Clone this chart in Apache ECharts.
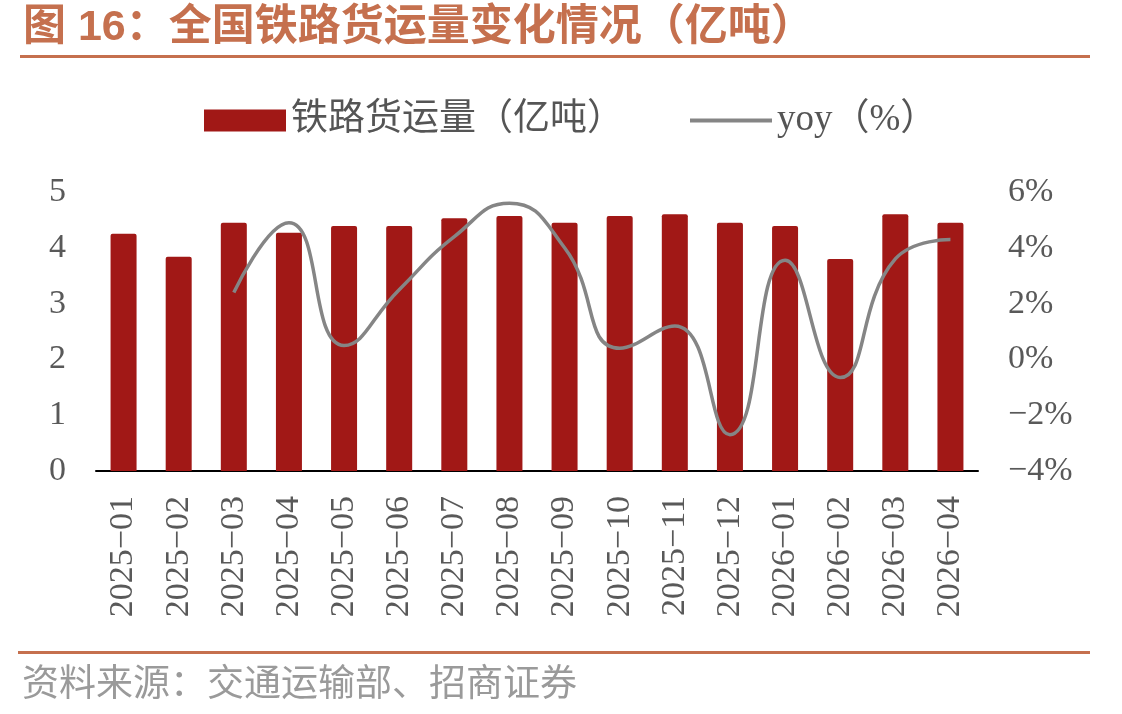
<!DOCTYPE html>
<html>
<head>
<meta charset="utf-8">
<script src="https://cdn.jsdelivr.net/npm/echarts@6/dist/echarts.min.js"></script>
<style>
  html, body { margin: 0; padding: 0; background: #fff; }
  #chart { width: 1122px; height: 714px; }
</style>
</head>
<body>
<div id="chart"></div>
<script>
// 数据
var months = ['2025-01','2025-02','2025-03','2025-04','2025-05','2025-06','2025-07','2025-08',
              '2025-09','2025-10','2025-11','2025-12','2026-01','2026-02','2026-03','2026-04'];
var volume = [4.25, 3.84, 4.45, 4.27, 4.39, 4.39, 4.53, 4.57, 4.45, 4.57, 4.60, 4.45, 4.39, 3.80, 4.60, 4.45];
var yoy = [null, null, 2.4, 4.9, 0.5, 2.5, 4.4, 5.6, 4.0, 0.4, 1.2, -2.7, 3.55, -0.65, 3.6, 4.3];

var brown = '#C5704E';
var numFont = '"Liberation Serif", "Noto Sans CJK SC", serif';

var myChart = echarts.init(document.getElementById('chart'));
myChart.setOption({
  animation: false,
  title: {
    text: '图 16：全国铁路货运量变化情况（亿吨）',
    left: 18,
    top: 2,
    textStyle: {
      color: brown,
      fontSize: 43,
      fontWeight: 'bold',
      fontFamily: '"Liberation Sans", "Noto Sans CJK SC", sans-serif'
    }
  },
  graphic: [
    { type: 'rect', shape: { x: 20, y: 55, width: 1070, height: 3 }, style: { fill: brown } },
    { type: 'rect', shape: { x: 18, y: 651, width: 1072, height: 3 }, style: { fill: brown } },
    {
      type: 'text', left: 22, top: 663,
      style: {
        text: '资料来源：交通运输部、招商证券',
        fill: '#9a9a9a',
        font: '37px "Noto Sans CJK SC", sans-serif'
      }
    }
  ],
  legend: {
    left: 199,
    top: 97,
    itemWidth: 82,
    itemHeight: 22,
    itemGap: 64,
    textStyle: { color: '#555', fontSize: 37, fontFamily: numFont },
    data: [
      { name: '铁路货运量（亿吨）', icon: 'rect' },
      { name: 'yoy（%）', itemStyle: { opacity: 0 }, lineStyle: { width: 4, color: '#858585' } }
    ]
  },
  grid: { left: 96, right: 144, top: 192, bottom: 243 },
  xAxis: {
    type: 'category',
    data: months,
    axisLine: { lineStyle: { color: '#000', width: 2 } },
    axisTick: { inside: true, length: 9, lineStyle: { color: '#000', width: 2 } },
    axisLabel: {
      rotate: 90,
      margin: 25,
      color: '#595959',
      fontSize: 34,
      fontFamily: numFont,
      formatter: function (v) { return v.replace('-', '−'); }
    }
  },
  yAxis: [
    {
      type: 'value', min: 0, max: 5, interval: 1,
      splitLine: { show: false },
      axisLine: { show: false },
      axisTick: { show: false },
      axisLabel: { color: '#595959', fontSize: 34, fontFamily: numFont, margin: 30 }
    },
    {
      type: 'value', min: -4, max: 6, interval: 2,
      splitLine: { show: false },
      axisLine: { show: false },
      axisTick: { show: false },
      axisLabel: {
        color: '#595959', fontSize: 34, fontFamily: numFont, margin: 30,
        formatter: function (v) { return (v < 0 ? '−' + Math.abs(v) : v) + '%'; }
      }
    }
  ],
  series: [
    {
      name: '铁路货运量（亿吨）',
      type: 'bar',
      barWidth: 26,
      itemStyle: { color: '#A11816', borderRadius: [2, 2, 0, 0] },
      data: volume
    },
    {
      name: 'yoy（%）',
      type: 'line',
      yAxisIndex: 1,
      smooth: 0.5,
      symbol: 'none',
      itemStyle: { color: '#858585' },
      lineStyle: { color: '#858585', width: 3.5 },
      data: yoy
    }
  ]
});
</script>
</body>
</html>
